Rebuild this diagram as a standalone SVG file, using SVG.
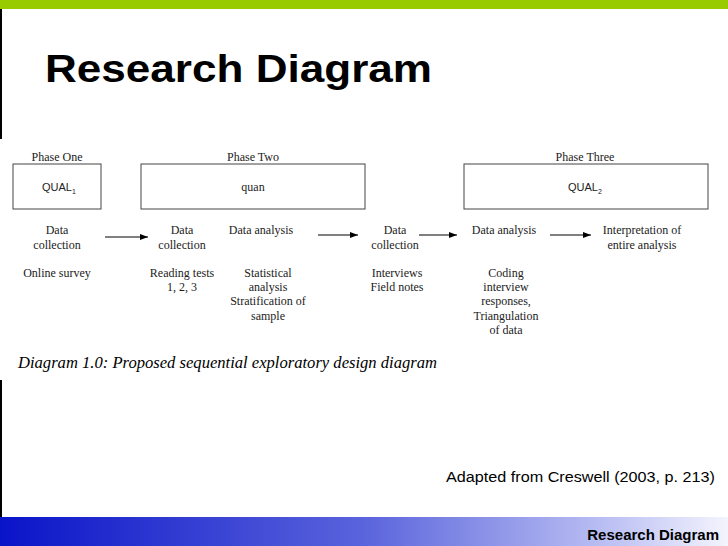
<svg xmlns="http://www.w3.org/2000/svg" width="728" height="546" viewBox="0 0 728 546">
<defs>
<linearGradient id="bg" x1="0" x2="1" y1="0" y2="0">
<stop offset="0" stop-color="#0a14c8"/><stop offset="0.5" stop-color="#5a64dc"/><stop offset="0.85" stop-color="#c0c4f4"/><stop offset="1" stop-color="#f4f4fe"/>
</linearGradient>
<marker id="ah" markerWidth="8" markerHeight="6" refX="8" refY="3" orient="auto" markerUnits="userSpaceOnUse"><path d="M0,0 L8,3 L0,6 Z" fill="#000"/></marker>
<style>
.t{font-family:"Liberation Serif",serif;font-size:12px;fill:#222;text-anchor:middle}
.b{fill:#fff;stroke:#444;stroke-width:1}
.c{stroke:#000;stroke-width:1;marker-end:url(#ah)}
</style>
</defs>
<rect width="728" height="546" fill="#fff"/>
<rect width="728" height="9" fill="#99cc00"/>
<rect x="0" y="9" width="2" height="130" fill="#000"/>
<rect x="0" y="380" width="2" height="137" fill="#000"/>
<text x="45" y="82" font-family="Liberation Sans,Arial,sans-serif" font-weight="bold" font-size="38" textLength="387" lengthAdjust="spacingAndGlyphs" fill="#000">Research Diagram</text>
<g id="phase1"><text class="t" x="57" y="161">Phase One</text><rect class="b" x="13" y="164" width="88" height="45"/><text x="42" y="191" font-family="Liberation Sans,sans-serif" font-size="11" fill="#222">QUAL<tspan font-size="7" dy="3">1</tspan></text></g>
<g id="phase2"><text class="t" x="253" y="161">Phase Two</text><rect class="b" x="141" y="164" width="224" height="45"/><text class="t" x="253" y="191">quan</text></g>
<g id="phase3"><text class="t" x="585" y="161">Phase Three</text><rect class="b" x="464" y="164" width="244" height="45"/><text x="568" y="191" font-family="Liberation Sans,sans-serif" font-size="11" fill="#222">QUAL<tspan font-size="7" dy="3">2</tspan></text></g>
<g id="n1"><text class="t" x="57" y="234">Data</text><text class="t" x="57" y="249">collection</text><text class="t" x="57" y="277">Online survey</text></g>
<g id="n2"><text class="t" x="182" y="234">Data</text><text class="t" x="182" y="249">collection</text><text class="t" x="182" y="277">Reading tests</text><text class="t" x="182" y="291">1, 2, 3</text></g>
<g id="n3"><text class="t" x="261" y="234">Data analysis</text><text class="t" x="268" y="277">Statistical</text><text class="t" x="268" y="291">analysis</text><text class="t" x="268" y="305">Stratification of</text><text class="t" x="268" y="320">sample</text></g>
<g id="n4"><text class="t" x="395" y="234">Data</text><text class="t" x="395" y="249">collection</text><text class="t" x="397" y="277">Interviews</text><text class="t" x="397" y="291">Field notes</text></g>
<g id="n5"><text class="t" x="504" y="234">Data analysis</text><text class="t" x="506" y="277">Coding</text><text class="t" x="506" y="291">interview</text><text class="t" x="506" y="305">responses,</text><text class="t" x="506" y="320">Triangulation</text><text class="t" x="506" y="334">of data</text></g>
<g id="n6"><text class="t" x="642" y="234">Interpretation of</text><text class="t" x="642" y="249">entire analysis</text></g>
<g id="connectors">
<line class="c" x1="105" y1="237" x2="148" y2="237"/>
<line class="c" x1="318" y1="235" x2="358" y2="235"/>
<line class="c" x1="419" y1="235" x2="457" y2="235"/>
<line class="c" x1="550" y1="235" x2="591" y2="235"/>
</g>
<text x="18" y="368" font-family="Liberation Serif,serif" font-style="italic" font-size="16" textLength="419" lengthAdjust="spacingAndGlyphs" fill="#000">Diagram 1.0: Proposed sequential exploratory design diagram</text>
<text x="446" y="482" font-family="Liberation Sans,sans-serif" font-size="14" textLength="269" lengthAdjust="spacingAndGlyphs" fill="#000">Adapted from Creswell (2003, p. 213)</text>
<rect x="0" y="517" width="728" height="29" fill="url(#bg)"/>
<text x="719" y="540" text-anchor="end" font-family="Liberation Sans,sans-serif" font-weight="bold" font-size="15" fill="#000">Research Diagram</text>
</svg>
